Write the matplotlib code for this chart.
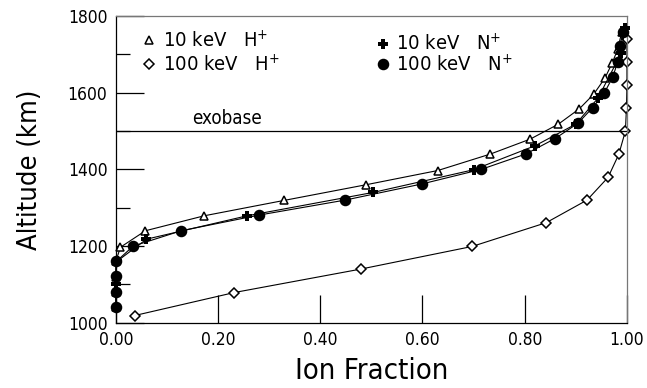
import matplotlib
matplotlib.use("Agg")
import matplotlib.pyplot as plt

# 10 keV H+ (open triangles)
h10_frac = [0.0, 0.0, 0.0, 0.0, 0.009, 0.058, 0.173, 0.329, 0.49, 0.63, 0.733, 0.811,
            0.866, 0.907, 0.935, 0.957, 0.971, 0.982, 0.990]
h10_alt = [1040, 1080, 1120, 1160, 1197, 1240, 1279, 1319, 1360, 1397, 1440, 1479,
           1518, 1558, 1596, 1638, 1677, 1713, 1759]

# 100 keV H+ (open diamonds)
h100_frac = [0.037, 0.232, 0.479, 0.697, 0.842, 0.922, 0.963, 0.984, 0.997, 0.999,
             1.0, 1.0, 1.0]
h100_alt = [1019, 1079, 1140, 1199, 1261, 1320, 1379, 1439, 1500, 1559, 1620, 1681, 1740]

# 10 keV N+ (plus)
n10_frac = [0.0, 0.002, 0.06, 0.257, 0.504, 0.70, 0.821, 0.90, 0.943, 0.989, 0.996]
n10_alt = [1100, 1160, 1218, 1279, 1340, 1399, 1462, 1518, 1585, 1703, 1768]

# 100 keV N+ (filled circles)
n100_frac = [0.0, 0.0, 0.0, 0.001, 0.034, 0.128, 0.281, 0.449, 0.599, 0.715, 0.802,
             0.859, 0.904, 0.933, 0.956, 0.972, 0.982, 0.986, 0.993]
n100_alt = [1042, 1080, 1121, 1160, 1200, 1240, 1281, 1320, 1362, 1400, 1440,
            1480, 1520, 1561, 1600, 1640, 1680, 1722, 1759]

x_ticks = [0.0, 0.2, 0.4, 0.6, 0.8, 1.0]
y_ticks = [1000, 1200, 1400, 1600, 1800]
exobase_alt = 1500

# narrow sans, close to the old plotting package look
plt.rcParams["font.family"] = ["DejaVu Sans"]
plt.rcParams["font.stretch"] = "condensed"

fig = plt.figure(figsize=(6.47, 3.88), dpi=100)
ax = fig.add_axes([0.179, 0.168, 0.790, 0.791])

lw = 0.8
ax.plot(h10_frac, h10_alt, color="black", lw=lw, marker="^", ms=6, mfc="white",
        mec="black", mew=1.1, zorder=2, clip_on=False)
ax.plot(h100_frac, h100_alt, color="black", lw=lw, marker="D", ms=5.3, mfc="white",
        mec="black", mew=1.1, zorder=2, clip_on=False)
ax.plot(n10_frac, n10_alt, color="black", lw=lw, marker="P", ms=7.5, mfc="black",
        mec="black", mew=0, zorder=3, clip_on=False)
ax.plot(n100_frac, n100_alt, color="black", lw=lw, marker="o", ms=7.3, mfc="black",
        mec="black", zorder=3, clip_on=False)

ax.axhline(exobase_alt, color="black", lw=0.9)
ax.text(0.15, exobase_alt + 7, "exobase", fontsize=13.5, va="bottom", ha="left")

ax.set_xlim(0, 1)
ax.set_ylim(1000, 1800)
ax.set_xticks(x_ticks)
ax.set_xticklabels(["%.2f" % v for v in x_ticks])
ax.set_yticks(y_ticks)
ax.set_yticks([1100, 1300, 1500, 1700], minor=True)
ax.tick_params(axis="both", which="major", direction="in", length=20, width=0.9,
               labelsize=12.5, pad=6)
ax.tick_params(axis="y", which="minor", direction="in", length=10, width=0.9)
for s in ax.spines.values():
    s.set_linewidth(0.9)
ax.spines["top"].set_color("#777777")
ax.spines["right"].set_color("#777777")

ax.set_xlabel("Ion Fraction", fontsize=21, labelpad=6)
ax.set_ylabel("Altitude (km)", fontsize=19.5, labelpad=18)

# legend written in by hand
def legend_entry(x, y, marker, ms, mfc, mew, label):
    ax.plot([x], [y], marker=marker, ms=ms, mfc=mfc, mec="black", mew=mew,
            transform=ax.transAxes, clip_on=False)
    ax.text(x + 0.027, y, label, fontsize=14.5, va="center", ha="left",
            transform=ax.transAxes)

legend_entry(0.065, 0.920, "^", 5.5, "white", 1.1, r"10 keV   H$^{+}$")
legend_entry(0.065, 0.842, "D", 5, "white", 1.1, r"100 keV   H$^{+}$")
legend_entry(0.522, 0.908, "P", 7.5, "black", 0, r"10 keV   N$^{+}$")
legend_entry(0.522, 0.842, "o", 7.3, "black", 1, r"100 keV   N$^{+}$")

fig.savefig("out.png", dpi=100)
